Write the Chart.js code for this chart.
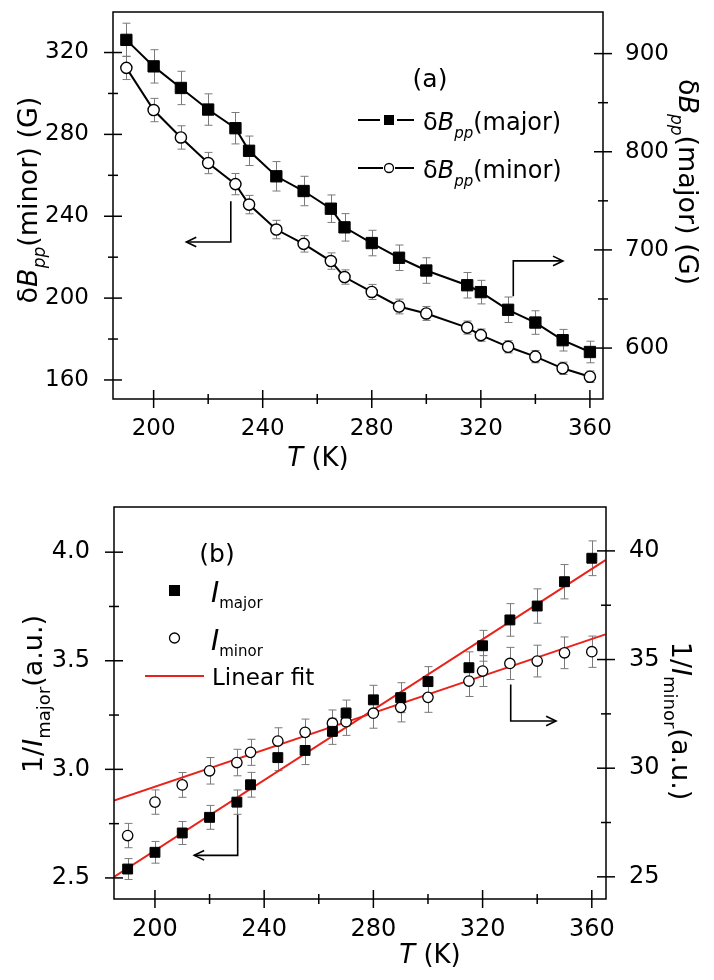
<!DOCTYPE html>
<html>
<head>
<meta charset="utf-8">
<script src="https://cdn.jsdelivr.net/npm/chart.js@4.4.0/dist/chart.umd.min.js"></script>
<style>
    html, body { margin: 0; padding: 0; background: #fff; }
    canvas { position: absolute; left: 0; }
    #chartA { top: 0; }
    #chartB { top: 480px; }
</style>
</head>
<body>
<canvas id="chartA" width="714" height="480"></canvas>
<canvas id="chartB" width="714" height="500"></canvas>
<script>
// temperatures (K)
const temps = [190, 200, 210, 220, 230, 235, 245, 255, 265, 270, 280, 290, 300, 315, 320, 330, 340, 350, 360];

// panel (a): peak-to-peak linewidth (G)
const dBppMajor = [914, 887, 865, 843, 824, 801, 775, 760, 742, 723, 707, 692, 679, 664, 657, 639, 626, 608, 596];
const dBppMajorErr = [17, 17, 17, 16, 16, 15, 15, 15, 14, 14, 13, 13, 13, 13, 12, 13, 12, 11, 11];
const dBppMinor = [312.5, 291.9, 278.5, 266.0, 255.7, 245.7, 233.5, 226.5, 218.1, 210.3, 203.0, 195.9, 192.5, 185.6, 181.9, 176.2, 171.4, 165.7, 161.6];
const dBppMinorErr = [5.7, 5.7, 5.7, 5.2, 5.2, 4.5, 4.5, 4.0, 4.0, 3.5, 3.7, 3.6, 3.4, 3.2, 3.0, 3.0, 3.0, 3.0, 2.8];

// panel (b): inverse intensities (a.u.)
const invMajor = [2.541, 2.618, 2.707, 2.779, 2.849, 2.929, 3.054, 3.087, 3.175, 3.259, 3.320, 3.330, 3.404, 3.468, 3.569, 3.688, 3.752, 3.864, 3.972];
const invMajorErr = [0.048, 0.05, 0.053, 0.055, 0.056, 0.057, 0.06, 0.065, 0.06, 0.06, 0.067, 0.069, 0.069, 0.073, 0.071, 0.075, 0.079, 0.079, 0.08];
const invMinor = [26.90, 28.44, 29.23, 29.88, 30.26, 30.73, 31.25, 31.65, 32.07, 32.14, 32.53, 32.80, 33.26, 34.01, 34.47, 34.82, 34.93, 35.31, 35.36];
const invMinorErr = [0.56, 0.56, 0.57, 0.61, 0.61, 0.6, 0.61, 0.61, 0.61, 0.63, 0.69, 0.67, 0.69, 0.71, 0.71, 0.74, 0.73, 0.73, 0.72];

// linear fits (end points)
const fitT = [185, 365];
const fitMajor = [2.505, 3.963];
const fitMinor = [28.51, 36.16];

// tick values
const tTicks = [200, 240, 280, 320, 360];
const tMinorTicks = [220, 260, 300, 340];
const aLeftTicks = [160, 200, 240, 280, 320];
const aLeftMinorTicks = [180, 220, 260, 300];
const aRightTicks = [600, 700, 800, 900];
const aRightMinorTicks = [650, 750, 850];
const bLeftTicks = [2.5, 3.0, 3.5, 4.0];
const bLeftMinorTicks = [2.75, 3.25, 3.75];
const bRightTicks = [25, 30, 35, 40];
const bRightMinorTicks = [27.5, 32.5, 37.5];

const FONT = '"DejaVu Sans", "Liberation Sans", sans-serif';

function pts(xs, ys) {
    return xs.map((x, i) => ({ x: x, y: ys[i] }));
}

// texte avec indices (italique, indice)
function fontOf(p) {
    return (p.it ? 'italic ' : '') + p.size + 'px ' + FONT;
}
function drawRich(ctx, parts, x, y, rot, align) {
    ctx.save();
    ctx.translate(x, y);
    ctx.rotate(rot);
    ctx.textBaseline = 'alphabetic';
    ctx.textAlign = 'left';
    ctx.fillStyle = '#000';
    let w = 0;
    parts.forEach(p => { ctx.font = fontOf(p); w += ctx.measureText(p.t).width; });
    let cx = align === 'center' ? -w / 2 : 0;
    parts.forEach(p => {
        ctx.font = fontOf(p);
        ctx.fillText(p.t, cx, p.dy || 0);
        cx += ctx.measureText(p.t).width;
    });
    ctx.restore();
}

function line(ctx, x1, y1, x2, y2) {
    ctx.beginPath();
    ctx.moveTo(x1, y1);
    ctx.lineTo(x2, y2);
    ctx.stroke();
}

function tickScale(majors, minors) {
    return s => {
        s.ticks = majors.concat(minors).sort((a, b) => a - b).map(v => ({ value: v }));
    };
}

function drawTicks(chart, id, side, majors) {
    const ctx = chart.ctx;
    const a = chart.chartArea;
    const s = chart.scales[id];
    ctx.save();
    ctx.strokeStyle = '#000';
    ctx.lineWidth = 1.5;
    s.ticks.forEach(t => {
        const len = majors.includes(t.value) ? 9 : 5;
        const p = s.getPixelForValue(t.value);
        if (side === 'bottom') line(ctx, p, a.bottom - len, p, a.bottom + len);
        if (side === 'left') line(ctx, a.left - len, p, a.left + len, p);
        if (side === 'right') line(ctx, a.right - len, p, a.right + len, p);
    });
    ctx.restore();
}

function drawErrors(chart, yId, ys, errs) {
    const ctx = chart.ctx;
    const xs = chart.scales.x;
    const sy = chart.scales[yId];
    ctx.save();
    ctx.strokeStyle = '#7a7a7a';
    ctx.lineWidth = 1;
    temps.forEach((t, i) => {
        const px = Math.round(xs.getPixelForValue(t)) + 0.5;
        const y1 = sy.getPixelForValue(ys[i] + errs[i]);
        const y2 = sy.getPixelForValue(ys[i] - errs[i]);
        line(ctx, px, y1, px, y2);
        line(ctx, px - 4, y1, px + 4, y1);
        line(ctx, px - 4, y2, px + 4, y2);
    });
    ctx.restore();
}

// fleche : polyligne en coordonnees de donnees, pointe a la fin
function drawArrow(chart, yId, path) {
    const ctx = chart.ctx;
    const xs = chart.scales.x;
    const sy = chart.scales[yId];
    const p = path.map(q => [xs.getPixelForValue(q[0]), sy.getPixelForValue(q[1])]);
    ctx.save();
    ctx.strokeStyle = '#000';
    ctx.lineWidth = 1.6;
    ctx.beginPath();
    ctx.moveTo(p[0][0], p[0][1]);
    p.slice(1).forEach(q => ctx.lineTo(q[0], q[1]));
    ctx.stroke();
    const n = p.length;
    const ang = Math.atan2(p[n - 1][1] - p[n - 2][1], p[n - 1][0] - p[n - 2][0]);
    const L = 11;
    ctx.beginPath();
    ctx.moveTo(p[n - 1][0] - L * Math.cos(ang - 0.45), p[n - 1][1] - L * Math.sin(ang - 0.45));
    ctx.lineTo(p[n - 1][0], p[n - 1][1]);
    ctx.lineTo(p[n - 1][0] - L * Math.cos(ang + 0.45), p[n - 1][1] - L * Math.sin(ang + 0.45));
    ctx.stroke();
    ctx.restore();
}

function drawFrame(chart) {
    const ctx = chart.ctx;
    const a = chart.chartArea;
    ctx.save();
    ctx.strokeStyle = '#000';
    ctx.lineWidth = 1.5;
    ctx.strokeRect(a.left, a.top, a.right - a.left, a.bottom - a.top);
    ctx.restore();
}

function baseScales(cfg) {
    const tickFont = { family: FONT, size: cfg.tickSize };
    return {
        x: {
            type: 'linear', min: cfg.xMin, max: cfg.xMax,
            grid: { display: false }, border: { display: false },
            afterBuildTicks: tickScale(tTicks, tMinorTicks),
            afterFit: s => { s.height = cfg.xHeight; s.paddingLeft = 0; s.paddingRight = 0; },
            ticks: { autoSkip: false, maxRotation: 0, padding: cfg.xPad, color: '#000', font: tickFont,
                callback: v => tTicks.includes(v) ? String(v) : '' }
        },
        y: {
            type: 'linear', position: 'left', min: cfg.yMin, max: cfg.yMax,
            grid: { display: false }, border: { display: false },
            afterBuildTicks: tickScale(cfg.yTicks, cfg.yMinor),
            afterFit: s => { s.width = cfg.left; s.paddingTop = 0; s.paddingBottom = 0; },
            ticks: { autoSkip: false, padding: cfg.yPad, color: '#000', font: tickFont,
                callback: v => cfg.yTicks.includes(v) ? cfg.yFmt(v) : '' }
        },
        y2: {
            type: 'linear', position: 'right', min: cfg.y2Min, max: cfg.y2Max,
            grid: { display: false }, border: { display: false },
            afterBuildTicks: tickScale(cfg.y2Ticks, cfg.y2Minor),
            afterFit: s => { s.width = cfg.right; s.paddingTop = 0; s.paddingBottom = 0; },
            ticks: { autoSkip: false, padding: cfg.y2Pad, color: '#000', font: tickFont,
                callback: v => cfg.y2Ticks.includes(v) ? String(v) : '' }
        }
    };
}

// ---------- panel (a) ----------
const panelA = {
    id: 'panelA',
    beforeDatasetsDraw(chart) {
        drawErrors(chart, 'y2', dBppMajor, dBppMajorErr);
        drawErrors(chart, 'y', dBppMinor, dBppMinorErr);
    },
    afterDatasetsDraw(chart) {
        drawFrame(chart);
        drawTicks(chart, 'x', 'bottom', tTicks);
        drawTicks(chart, 'y', 'left', aLeftTicks);
        drawTicks(chart, 'y2', 'right', aRightTicks);
        drawArrow(chart, 'y', [[228.3, 247.3], [228.3, 227.4], [212.0, 227.4]]);
        drawArrow(chart, 'y2', [[331.9, 652.9], [331.9, 688.8], [350.1, 688.8]]);
    },
    afterDraw(chart) {
        const ctx = chart.ctx;
        const dB = (name, s, ss) => [
            { t: '\u03b4', size: s }, { t: 'B', size: s, it: true },
            { t: 'pp', size: ss, it: true, dy: 8 }, { t: name, size: s }
        ];
        // titres des axes
        drawRich(ctx, dB('(minor) (G)', 27, 17), 37, 200, -Math.PI / 2, 'center');
        drawRich(ctx, dB('(major) (G)', 27, 17), 679, 182, Math.PI / 2, 'center');
        drawRich(ctx, [{ t: 'T', size: 26, it: true }, { t: ' (K)', size: 26 }], 318, 466, 0, 'center');
        drawRich(ctx, [{ t: '(a)', size: 25 }], 430, 87, 0, 'center');
        // legende
        ctx.save();
        ctx.strokeStyle = '#000';
        ctx.lineWidth = 2;
        line(ctx, 358, 120, 380, 120);
        line(ctx, 397, 120, 414, 120);
        ctx.fillStyle = '#000';
        ctx.fillRect(384, 115, 10, 10);
        line(ctx, 358, 168, 383, 168);
        line(ctx, 395, 168, 414, 168);
        ctx.lineWidth = 1.3;
        ctx.beginPath();
        ctx.arc(389, 168, 4.5, 0, Math.PI * 2);
        ctx.stroke();
        ctx.restore();
        drawRich(ctx, dB('(major)', 24, 15), 423, 130, 0, 'left');
        drawRich(ctx, dB('(minor)', 24, 15), 423, 178, 0, 'left');
    }
};

new Chart(document.getElementById('chartA'), {
    type: 'scatter',
    data: {
        datasets: [
            {
                data: pts(temps, dBppMajor), yAxisID: 'y2', showLine: true,
                borderColor: '#000', borderWidth: 2,
                pointStyle: 'rect', pointRadius: 8, pointBackgroundColor: '#000', pointBorderColor: '#000', pointBorderWidth: 1
            },
            {
                data: pts(temps, dBppMinor), yAxisID: 'y', showLine: true,
                borderColor: '#000', borderWidth: 2,
                pointStyle: 'circle', pointRadius: 5.6, pointBackgroundColor: '#fff', pointBorderColor: '#000', pointBorderWidth: 1.4
            }
        ]
    },
    options: {
        responsive: false,
        animation: false,
        layout: { padding: { top: 12, left: 0, right: 0, bottom: 0 } },
        plugins: { legend: { display: false }, tooltip: { enabled: false } },
        scales: baseScales({
            tickSize: 23, xMin: 185.1, xMax: 364.8, xHeight: 81, xPad: 8,
            yMin: 150.7, yMax: 339.8, yTicks: aLeftTicks, yMinor: aLeftMinorTicks, left: 113, yPad: 16, yFmt: v => String(v),
            y2Min: 548.1, y2Max: 942.4, y2Ticks: aRightTicks, y2Minor: aRightMinorTicks, right: 111, y2Pad: 14
        })
    },
    plugins: [panelA]
});

// ---------- panel (b) ----------
const panelB = {
    id: 'panelB',
    beforeDatasetsDraw(chart) {
        drawErrors(chart, 'y', invMajor, invMajorErr);
        drawErrors(chart, 'y2', invMinor, invMinorErr);
    },
    afterDatasetsDraw(chart) {
        drawFrame(chart);
        drawTicks(chart, 'x', 'bottom', tTicks);
        drawTicks(chart, 'y', 'left', bLeftTicks);
        drawTicks(chart, 'y2', 'right', bRightTicks);
        drawArrow(chart, 'y', [[230.3, 2.791], [230.3, 2.604], [214.4, 2.604]]);
        drawArrow(chart, 'y2', [[330.3, 33.85], [330.3, 32.17], [346.9, 32.17]]);
    },
    afterDraw(chart) {
        const ctx = chart.ctx;
        const inv = (sub, s, ss) => [
            { t: '1/', size: s }, { t: 'I', size: s, it: true },
            { t: sub, size: ss, dy: 8 }, { t: '(a.u.)', size: s }
        ];
        drawRich(ctx, inv('major', 27, 18), 42, 214, -Math.PI / 2, 'center');
        drawRich(ctx, inv('minor', 27, 18), 672, 241, Math.PI / 2, 'center');
        drawRich(ctx, [{ t: 'T', size: 26, it: true }, { t: ' (K)', size: 26 }], 430, 483, 0, 'center');
        drawRich(ctx, [{ t: '(b)', size: 25 }], 217, 82, 0, 'center');
        // legende
        ctx.save();
        ctx.fillStyle = '#000';
        ctx.fillRect(169, 105, 11, 11);
        ctx.strokeStyle = '#000';
        ctx.lineWidth = 1.3;
        ctx.beginPath();
        ctx.arc(174.5, 158, 5, 0, Math.PI * 2);
        ctx.stroke();
        ctx.strokeStyle = '#e8231b';
        ctx.lineWidth = 2;
        line(ctx, 145, 196, 204, 196);
        ctx.restore();
        drawRich(ctx, [{ t: 'I', size: 28, it: true }, { t: 'major', size: 15, dy: 6 }], 211, 122, 0, 'left');
        drawRich(ctx, [{ t: 'I', size: 28, it: true }, { t: 'minor', size: 15, dy: 6 }], 211, 170, 0, 'left');
        drawRich(ctx, [{ t: 'Linear fit', size: 23 }], 212, 205, 0, 'left');
    }
};

new Chart(document.getElementById('chartB'), {
    type: 'scatter',
    data: {
        datasets: [
            {
                data: pts(temps, invMajor), yAxisID: 'y',
                pointStyle: 'rect', pointRadius: 7, pointBackgroundColor: '#000', pointBorderColor: '#000', pointBorderWidth: 1
            },
            {
                data: pts(temps, invMinor), yAxisID: 'y2',
                pointStyle: 'circle', pointRadius: 5.2, pointBackgroundColor: '#fff', pointBorderColor: '#000', pointBorderWidth: 1.3
            },
            {
                data: pts(fitT, fitMajor), yAxisID: 'y', showLine: true,
                borderColor: '#e8231b', borderWidth: 2, pointRadius: 0
            },
            {
                data: pts(fitT, fitMinor), yAxisID: 'y2', showLine: true,
                borderColor: '#e8231b', borderWidth: 2, pointRadius: 0
            }
        ]
    },
    options: {
        responsive: false,
        animation: false,
        layout: { padding: { top: 27, left: 0, right: 0, bottom: 0 } },
        plugins: { legend: { display: false }, tooltip: { enabled: false } },
        scales: baseScales({
            tickSize: 24, xMin: 185.0, xMax: 365.2, xHeight: 81, xPad: 8,
            yMin: 2.403, yMax: 4.208, yTicks: bLeftTicks, yMinor: bLeftMinorTicks, left: 114, yPad: 16, yFmt: v => v.toFixed(1),
            y2Min: 23.98, y2Max: 42.02, y2Ticks: bRightTicks, y2Minor: bRightMinorTicks, right: 108, y2Pad: 15
        })
    },
    plugins: [panelB]
});
</script>
</body>
</html>
